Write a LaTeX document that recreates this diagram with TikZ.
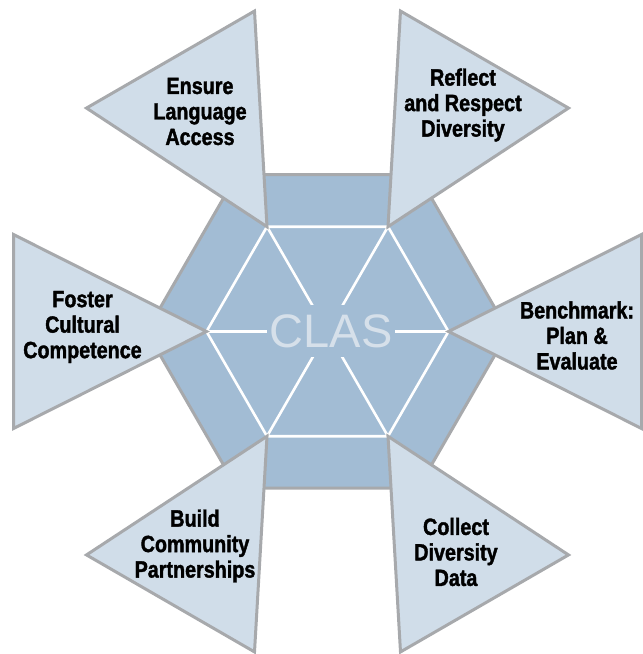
\documentclass[tikz,border=0pt]{standalone}
\usepackage{fontspec}
\setmainfont{Liberation Sans}
\newfontfamily\labelfont[FakeStretch=0.84,FakeBold=1.6]{Liberation Sans Bold}
\usetikzlibrary{calc}
\definecolor{hexfill}{HTML}{A2BCD4}
\definecolor{petalfill}{HTML}{D0DDE9}
\definecolor{rimgrey}{HTML}{A7A9AC}
\definecolor{clastext}{HTML}{D6E0EA}
\begin{document}
\begin{tikzpicture}[x=1pt,y=1pt,
  rim/.style={draw=rimgrey, line width=3pt},
  petal/.style={rim, fill=petalfill},
  spoke/.style={draw=white, line width=2.6pt},
  petallabel/.style={font=\labelfont\fontsize{23.5}{25.5}\selectfont,
    align=center, text=black, inner sep=0pt}]
\useasboundingbox (0,0) rectangle (643,654);
\coordinate (C) at (327.5,322.5);

% corners of the inner hexagon and centres of the petal bases
\foreach \i/\a in {0/0,1/60,2/120,3/180,4/240,5/300} {
  \coordinate (v\i) at ($(C)+(\a:121)$);
  \coordinate (b\i) at ($(C)+(\a:314)$);
}

% outer hexagon
\draw[rim, fill=hexfill] ($(C)+(0:181)$)
  \foreach \a in {60,120,180,240,300} { -- ($(C)+(\a:181)$) } -- cycle;

% inner hexagon and its spokes
\draw[spoke] (v0) -- (v1) -- (v2) -- (v3) -- (v4) -- (v5) -- cycle;
\foreach \i in {0,...,5} \draw[spoke] (v\i) -- (C);

% central label, its fill hides the spoke ends
\node[fill=hexfill, minimum width=128pt, minimum height=52pt, inner sep=0pt,
  text=clastext, font=\fontsize{47}{47}\selectfont] (clas) at (331,323) {CLAS};

% the six petals
\foreach \i/\a in {0/0,1/60,2/120,3/180,4/240,5/300} {
  \draw[petal] (v\i) -- ($(b\i)+(\a+90:97)$) -- ($(b\i)+(\a-90:97)$) -- cycle;
}

% petal labels
\node[petallabel] (ensure)    at (200,542.5) {Ensure\\Language\\Access};
\node[petallabel] (reflect)   at (463,549)   {Reflect\\and Respect\\Diversity};
\node[petallabel] (foster)    at (82.5,327)  {Foster\\Cultural\\Competence};
\node[petallabel] (benchmark) at (577,318.5) {Benchmark:\\Plan \&\\Evaluate};
\node[petallabel] (build)     at (195,108)   {Build\\Community\\Partnerships};
\node[petallabel] (collect)   at (456,102)   {Collect\\Diversity\\Data};
\end{tikzpicture}
\end{document}
